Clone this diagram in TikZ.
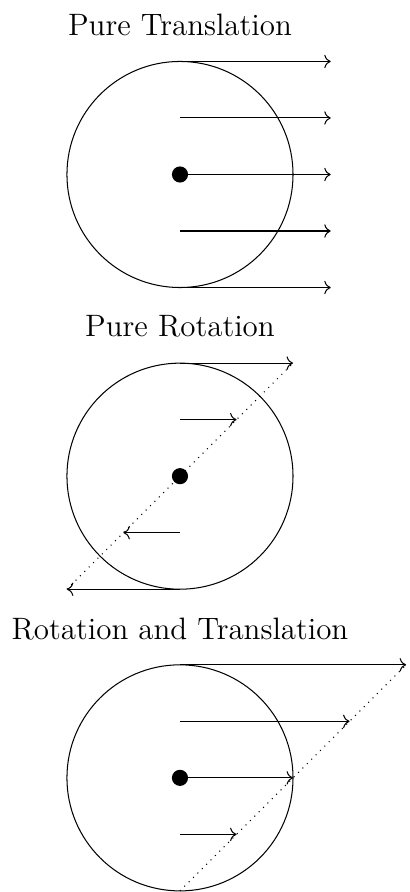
\documentclass[tikz,border=0pt]{standalone}
\usepackage{tikz}
\usetikzlibrary{arrows.meta,positioning}
\newcommand{\wheelr}{1.54}

\begin{document}
\begin{tikzpicture}[every node/.style={font=\large},
      vec/.style={->},
      hub/.style={circle, fill, inner sep=0pt, minimum size=0.22cm},
      ttl/.style={anchor=base},
      guide/.style={dotted}]
    \useasboundingbox (-2.452,2.377) rectangle (3.120,-9.775);
    % pure translation
    \coordinate (c1) at (0,0);
    \node[ttl] (t1) at (0,1.9) {Pure Translation};
    \draw (c1) circle (\wheelr);
    \foreach \f in {-1,-0.5,0,0.5,1}
      \draw[vec] (0,\wheelr*\f) -- ++(4/3*\wheelr,0);
    \node[hub] (h1) at (c1) {};
    % pure rotation
    \begin{scope}[yshift=-4.11cm]
      \coordinate (c2) at (0,0);
      \node[ttl] (t2) at (0,1.9) {Pure Rotation};
      \draw (c2) circle (\wheelr);
      \foreach \f in {-1,-0.5,0.5,1}
        \draw[vec] (0,\wheelr*\f) -- ++(\wheelr*\f,0);
      \coordinate (p2) at (-\wheelr,-\wheelr);
      \coordinate (q2) at (\wheelr,\wheelr);
      \draw[guide] (p2) -- (q2);
      \node[hub] (h2) at (c2) {};
    \end{scope}
    % rotation and translation
    \begin{scope}[yshift=-8.22cm]
      \coordinate (c3) at (0,0);
      \node[ttl] (t3) at (0,1.88) {Rotation and Translation};
      \draw (c3) circle (\wheelr);
      \foreach \f in {-0.5,0,0.5,1}
        \draw[vec] (0,\wheelr*\f) -- ++(\wheelr+\wheelr*\f,0);
      \coordinate (p3) at (0,-\wheelr);
      \coordinate (q3) at (2*\wheelr,\wheelr);
      \draw[guide] (p3) -- (q3);
      \node[hub] (h3) at (c3) {};
    \end{scope}
  \end{tikzpicture}
\end{document}
